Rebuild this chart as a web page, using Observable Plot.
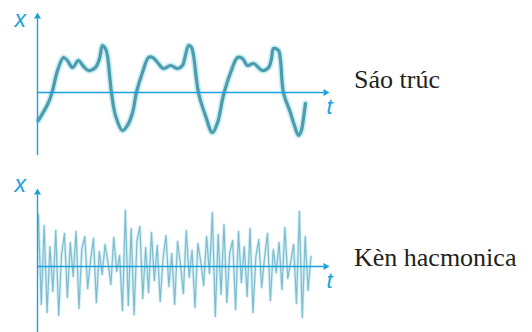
<!DOCTYPE html>
<html>
<head>
<meta charset="utf-8">
<script src="https://cdn.jsdelivr.net/npm/d3@7"></script>
<script src="https://cdn.jsdelivr.net/npm/@observablehq/plot@0.6"></script>
<style>
  html, body { margin: 0; padding: 0; background: #fff; }
  #wrap { position: relative; width: 532px; height: 332px; overflow: hidden; }
  .panel { position: absolute; left: 0; }
  .name { position: absolute; font-family: "Liberation Serif", "Times New Roman", "DejaVu Serif", serif; font-size: 26px; color: #231f20; white-space: nowrap; line-height: 1; }
</style>
</head>
<body>
<div id="wrap"></div>
<script>
// Sáo trúc (flute) waveform: time t and displacement x
const saoT = [0.03,0.38,0.52,0.69,0.90,1.03,1.21,1.41,1.59,1.76,2.00,2.14,2.24,2.34,2.41,2.55,2.69,2.93,3.10,3.28,3.41,3.62,3.83,3.97,4.14,4.34,4.59,4.83,5.00,5.10,5.21,5.31,5.38,5.55,5.79,6.03,6.21,6.41,6.66,6.90,7.07,7.24,7.45,7.76,7.97,8.07,8.14,8.31,8.38,8.48,8.72,8.86,9.00,9.10,9.17,9.24];
const saoX = [-2.8,-1.0,0.2,2.2,3.5,3.2,2.5,3.2,2.6,2.2,2.5,3.4,4.7,4.4,3.7,0,-2.3,-3.8,-3.3,-2.0,0,2.0,3.5,3.5,3.0,2.4,2.7,2.4,2.7,3.7,4.7,4.5,3.7,0,-2.3,-4.0,-3.0,-0.3,2.0,3.5,3.4,2.7,2.9,2.2,2.5,3.4,4.4,4.2,3.2,0,-2.0,-3.3,-4.3,-3.8,-2.6,-1.1];

// Kèn hacmonica (harmonica) waveform samples, one every 0.1 time unit
const kenStep = 0.1;
const kenX = [
  5.2,-3.8,4.1,-4.6,2.0,-2.5,3.6,-4.9,1.2,3.3,
  -3.1,2.4,-1.0,3.5,-4.2,1.8,3.0,-2.2,0.6,2.8,
  -3.6,1.5,-0.8,2.2,0.4,-1.8,2.9,-0.5,1.1,-4.4,
  5.6,-3.9,3.8,-4.8,2.6,4.0,-3.2,1.9,-2.6,3.4,
  -1.4,2.1,-3.5,0.8,3.1,-2.0,1.3,-3.8,2.5,0.2,
  -2.7,3.6,-1.1,1.6,-4.1,2.3,0.5,-1.9,3.0,-0.7,
  5.4,-5.0,3.2,-2.8,4.2,-3.6,1.4,2.6,-4.3,3.5,
  -1.6,2.0,-3.0,3.8,-4.6,1.0,2.7,-2.1,0.9,3.3,
  -3.4,1.7,-0.6,2.4,-2.3,3.9,-1.2,0.4,2.2,-3.7,
  5.5,-5.1,3.0,-2.4,1.0
];

// Axis extents (t range and x range of each panel)
const tAxis = [0, 10];
const saoXAxis = [-6.3, 7.8];
const kenXAxis = [-6.6, 7.6];

const names = ["Sáo trúc", "Kèn hacmonica"];

const AXIS = "#1ba1de";

function panel(data, yDomain, opts) {
  const axisMarks = [
    Plot.ruleY([0], {x1: tAxis[0], x2: tAxis[1] - 0.12, stroke: AXIS, strokeWidth: 1.4}),
    Plot.ruleX([0], {y1: yDomain[0], y2: yDomain[1] - 0.3, stroke: AXIS, strokeWidth: 1.4}),
    Plot.dot([{t: tAxis[1], v: 0}], {x: "t", y: "v", symbol: "triangle", r: 2.6, fill: AXIS, stroke: "none", rotate: 90, dx: -2}),
    Plot.dot([{t: 0, v: yDomain[1]}], {x: "t", y: "v", symbol: "triangle", r: 2.6, fill: AXIS, stroke: "none", dy: 2}),
    Plot.text(["x"], {frameAnchor: "top-left", dx: -23, dy: opts.xdy, fontSize: 23, fontStyle: "italic", fill: AXIS, fontFamily: "Liberation Sans, Arial, sans-serif", textAnchor: "start"}),
    Plot.text(["t"], {x: tAxis[1], y: 0, dx: 2, dy: 14, fontSize: 22, fontStyle: "italic", fill: AXIS, fontFamily: "Liberation Sans, Arial, sans-serif", textAnchor: "middle"})
  ];
  return Plot.plot({
    width: 532,
    height: 166,
    marginLeft: 37,
    marginRight: 205,
    marginTop: opts.mt,
    marginBottom: opts.mb,
    x: {domain: tAxis, axis: null},
    y: {domain: yDomain, axis: null},
    style: {background: "transparent", overflow: "visible"},
    marks: [
      ...opts.waveMarks,
      ...axisMarks
    ]
  });
}

const sao = saoT.map((t, i) => ({t, v: saoX[i]}));
const ken = kenX.map((v, i) => ({t: i * kenStep + 0.03, v}));

const topChart = panel(sao, saoXAxis, {
  mt: 14, mb: 11, xdy: -4,
  waveMarks: [
    Plot.line(sao, {x: "t", y: "v", curve: "catmull-rom", stroke: "#a9e3ee", strokeWidth: 6.5, strokeOpacity: 0.6}),
    Plot.line(sao, {x: "t", y: "v", curve: "catmull-rom", stroke: "#4d9cae", strokeWidth: 3.2})
  ]
});
const bottomChart = panel(ken, kenXAxis, {
  mt: 24, mb: 0, xdy: -15,
  waveMarks: [
    Plot.line(ken, {x: "t", y: "v", stroke: "#b5e3ef", strokeWidth: 3, strokeOpacity: 0.6}),
    Plot.line(ken, {x: "t", y: "v", stroke: "#6fb4c8", strokeWidth: 1.2, strokeOpacity: 0.85})
  ]
});

const wrap = document.getElementById("wrap");
topChart.classList.add("panel"); topChart.style.top = "0px";
bottomChart.classList.add("panel"); bottomChart.style.top = "166px";
wrap.appendChild(topChart);
wrap.appendChild(bottomChart);

const n1 = document.createElement("div");
n1.className = "name"; n1.textContent = names[0];
n1.style.left = "354px"; n1.style.top = "67px";
const n2 = document.createElement("div");
n2.className = "name"; n2.textContent = names[1];
n2.style.left = "354px"; n2.style.top = "245px";
wrap.appendChild(n1); wrap.appendChild(n2);
</script>
</body>
</html>
